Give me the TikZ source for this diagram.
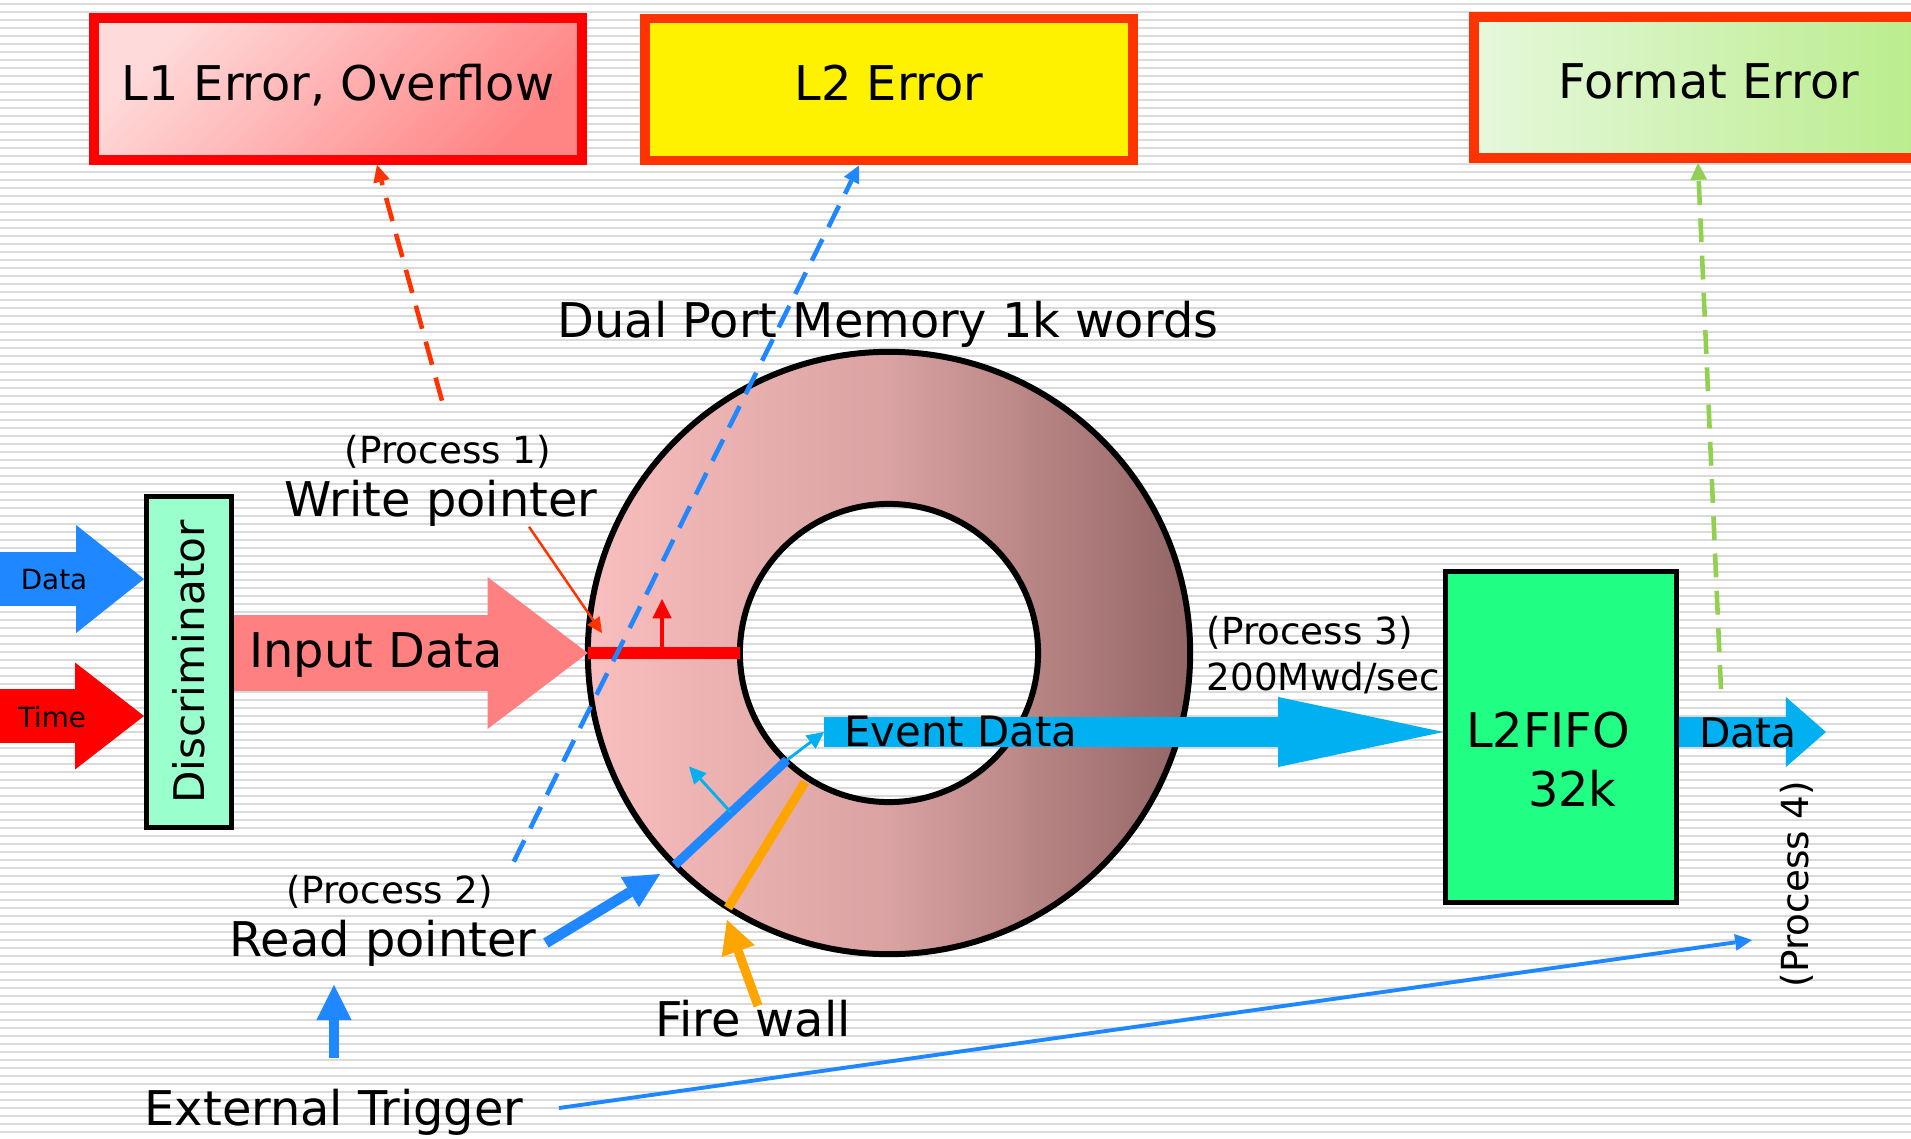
\documentclass[tikz,border=0pt]{standalone}
\usepackage{fontspec}
\setmainfont{DejaVu Sans}
\usetikzlibrary{arrows.meta,calc}

\definecolor{raya}{HTML}{DADADA}
\definecolor{azul}{HTML}{1F87FF}
\definecolor{cian}{HTML}{00B0F0}
\definecolor{rojo}{HTML}{FF0000}
\definecolor{rojizo}{HTML}{FF3300}
\definecolor{naranja}{HTML}{FFA500}
\definecolor{verdetenue}{HTML}{92D050}
\definecolor{rosa}{HTML}{FF8080}
\definecolor{menta}{HTML}{99FFCC}
\definecolor{verdefifo}{HTML}{20FF84}
\definecolor{l1claro}{HTML}{FFDADA}
\definecolor{l1oscuro}{HTML}{FF8585}
\definecolor{verdeA}{HTML}{E6F8DC}
\definecolor{verdeB}{HTML}{B8EC88}
\definecolor{anilloA}{HTML}{F9BEBE}
\definecolor{anilloB}{HTML}{DAA2A2}
\definecolor{anilloC}{HTML}{936565}

\pgfdeclarehorizontalshading{anillo}{100bp}{color(0bp)=(anilloA); color(25bp)=(anilloA); color(50bp)=(anilloB); color(75bp)=(anilloC); color(100bp)=(anilloC)}

\tikzset{
	caja/.style={draw, line width=2.8pt, minimum width=4.88cm, minimum height=1.42cm, text height=0.36cm, text depth=0.14cm, font=\fontsize{13.6}{16.8}\selectfont},
	bloque/.style={draw, line width=1.4pt},
	texto/.style={inner sep=0pt, font=\fontsize{13.6}{16.8}\selectfont},
	textito/.style={inner sep=0pt, font=\fontsize{10.6}{13}\selectfont},
	punta/.style={-{Triangle[length=#1, width=#1, line width=0pt]}},
	trazos/.style={line width=1.3pt, dash pattern=on 6.8pt off 3.8pt, punta=4.8pt},
	gorda/.style n args={3}{line width=#1, -{Triangle[length=#2, width=#3, line width=0pt]}}
}

\begin{document}
\begin{tikzpicture}[x=0.01cm, y=-0.01cm]
	% Fondo rayado
		\useasboundingbox (0,0) rectangle (1911,1139);
		\clip (0,0) rectangle (1911,1139);
		\fill[white] (0,0) rectangle (1911,1139);
		\foreach \y in {3,11,...,1139}
			\fill[raya] (0,\y) rectangle (1911,\y+2);
	% Cajas de error
		\node[caja, draw=rojo, top color=l1claro, bottom color=l1oscuro, shading angle=45] (l1) at (338,89) {L1 Error, Overflow};
		\node[caja, draw=rojizo, fill=yellow] (l2) at (889,89.5) {L2 Error};
		\node[caja, draw=rojizo, left color=verdeA, right color=verdeB, minimum width=4.70cm, minimum height=1.41cm] (fmt) at (1709,87.5) {Format Error};
	% Bloques
		\node[bloque, fill=menta, minimum width=0.85cm, minimum height=3.31cm] (disc) at (189,662) {};
		\node[rotate=90, inner sep=0pt, font=\fontsize{12}{14}\selectfont] (disctxt) at (disc.center) {Discriminator};
		\node[bloque, fill=verdefifo, minimum width=2.30cm, minimum height=3.30cm] (fifo) at (1561,737) {};
	% Memoria de doble puerto
		\node[circle, inner sep=0pt, outer sep=0pt, minimum size=6.02cm] (mem) at (889,653) {};
		\node[circle, inner sep=0pt, outer sep=0pt, minimum size=2.98cm] (hueco) at (mem) {};
		\shadedraw[shading=anillo, even odd rule, line width=1.7pt] (mem.center) circle[radius=3.01cm] (mem.center) circle[radius=1.49cm];
	% Flechas anchas
		\coordinate (dentra) at (0,579);
		\coordinate (tentra) at (0,716);
		\coordinate (evcola) at (824,732);
		\coordinate (fuera) at (1826,732);
		\draw[azul, gorda={15.6pt}{19.3pt}{30.7pt}] (dentra) -- (dentra -| disc.west);
		\draw[rojo, gorda={15.6pt}{19.6pt}{30.4pt}] (tentra) -- (tentra -| disc.west);
		\draw[rosa, gorda={21.6pt}{28.5pt}{43.2pt}] (disc.east |- mem.west) -- (mem.west);
		\draw[cian, gorda={8.5pt}{47pt}{19.9pt}] (evcola) -- (evcola -| fifo.west);
		\draw[cian, gorda={8.5pt}{11.4pt}{19.9pt}] (evcola -| fifo.east) -- (fuera);
	% Punteros sobre el anillo
		\coordinate (esc) at (662,653);
		\coordinate (lec1) at (675,865);
		\coordinate (lec2) at (787,760);
		\coordinate (muro1) at (728,908);
		\coordinate (muro2) at (805,782);
		\draw[rojo, line width=3.4pt] (mem.west) -- (hueco.west);
		\draw[rojo, line width=1.1pt, punta=5.5pt] (esc) -- ++(0,-54);
		\draw[azul, line width=2.6pt] (lec1) -- (lec2);
		\draw[naranja, line width=2.6pt] (muro1) -- (muro2);
		\draw[cian, line width=0.8pt, punta=4.8pt] ($(lec1)!0.5!(lec2)$) -- ++(-42,-46);
		\draw[cian, line width=0.8pt, punta=4.8pt] (lec2) -- (evcola);
	% Textos
		\node[texto] (dual) at (888,324) {Dual Port Memory 1k words};
		\node[textito] (p1) at (448,452) {(Process 1)};
		\node[texto] (wp) at (441,503) {Write pointer};
		\node[texto] (inp) at (376,655) {Input Data};
		\node[inner sep=0pt, font=\fontsize{7.9}{9}\selectfont] (dlab) at (54,580) {Data};
		\node[inner sep=0pt, font=\fontsize{7.9}{9}\selectfont] (tlab) at (52,717) {Time};
		\node[inner sep=0pt, font=\fontsize{11.9}{14}\selectfont] (ev) at (961,732) {Event Data};
		\node[textito, anchor=west] (p3) at (1206,633) {(Process 3)};
		\node[textito, anchor=west] (rate) at (1206,678) {200Mwd/sec};
		\node[texto, align=left] (fifotxt) at (1548,760) {L2FIFO\\\hspace*{0.62cm}32k};
		\node[inner sep=0pt, font=\fontsize{11.6}{14}\selectfont] (dout) at (1748,733) {Data};
		\node[textito, rotate=90] (p4) at (1797,884) {(Process 4)};
		\node[textito] (p2) at (390,892) {(Process 2)};
		\node[texto] (rp) at (383,943) {Read pointer};
		\node[texto] (fw) at (753,1019) {Fire wall};
		\node[texto] (ext) at (334,1112) {External Trigger};
	% Avisos de error
		\draw[rojizo, trazos] ([xshift=-0.06cm, yshift=0.34cm]p1.north) -- ([xshift=0.39cm]l1.south);
		\draw[azul, trazos] ([xshift=0.2cm, yshift=0.13cm]p2.north east) -- ([xshift=-0.3cm]l2.south);
		\draw[verdetenue, trazos] ([xshift=-0.27cm, yshift=0.28cm]dout.north) -- ([xshift=-0.11cm]fmt.south);
	% Flechas de los punteros
		\coordinate (wtip) at (602,633);
		\coordinate (rtip) at (660,874);
		\coordinate (ftip) at (727,920);
		\coordinate (trigfin) at (1752,940);
		\draw[rojizo, line width=0.7pt, punta=4.3pt] ([xshift=0.88cm]wp.south) -- (wtip);
		\draw[azul, line width=3pt, punta=10pt] ([xshift=0.09cm]rp.east) -- (rtip);
		\draw[naranja, line width=2.6pt, -{Triangle[length=9.4pt, width=10pt, line width=0pt]}] ([xshift=0.05cm, yshift=-0.06cm]fw.north) -- (ftip);
		\draw[azul, line width=3.1pt, punta=10pt] ([yshift=0.3cm]ext.north) -- ([yshift=-0.18cm]rp.south -| ext.north);
		\draw[azul, line width=1.1pt, punta=4.8pt] ([xshift=0.35cm, yshift=0.04cm]ext.east) -- (trigfin);
\end{tikzpicture}
\end{document}
